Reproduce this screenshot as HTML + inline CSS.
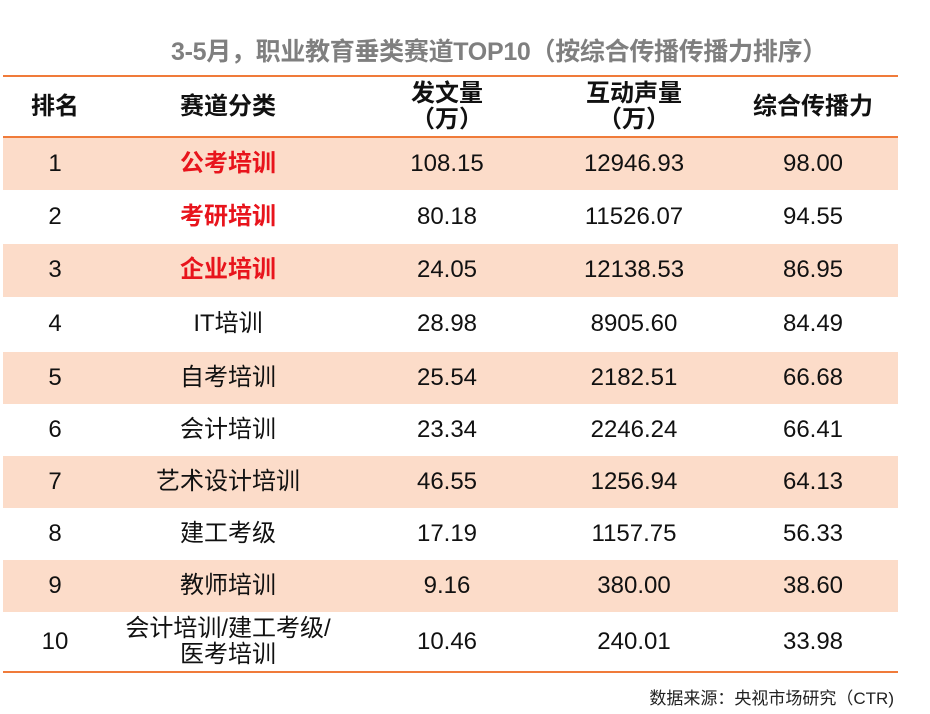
<!DOCTYPE html>
<html><head><meta charset="utf-8"><style>
body{margin:0;width:930px;height:714px;background:#fff;position:relative;overflow:hidden;font-family:"Liberation Sans","Noto Sans CJK SC",sans-serif;}
.t{position:absolute;left:0;width:998px;top:32px;text-align:center;font-size:25px;font-weight:bold;color:#7f7f7f;letter-spacing:-0.3px;}
.line{position:absolute;left:3px;width:895px;height:2px;background:#f07b3a;}
.row{position:absolute;left:3px;width:895px;}
.row.s{background:#fcdcc9;}
.c{position:absolute;top:0;height:100%;display:flex;align-items:center;justify-content:center;text-align:center;font-size:24px;color:#111;line-height:1.1;}
.c0{left:0;width:104px}.c1{left:120px;width:210px}.c2{left:364px;width:160px}.c3{left:550px;width:162px}.c4{left:730px;width:160px}
.h .c{font-weight:bold;}
.r{color:#e8141c;font-weight:bold;}
.src{position:absolute;right:36px;top:684px;font-size:17px;color:#222;}
</style></head><body>
<div class="t">3-5月，职业教育垂类赛道TOP10（按综合传播传播力排序）</div>
<div class="line" style="top:75px"></div>
<div class="row h" style="top:77px;height:60px"><div class="c c0">排名</div><div class="c c1">赛道分类</div><div class="c c2">发文量<br>（万）</div><div class="c c3">互动声量<br>（万）</div><div class="c c4">综合传播力</div></div>
<div class="line" style="top:136px"></div>
<div class="row s" style="top:138px;height:52px"><div class="c c0">1</div><div class="c c1 r">公考培训</div><div class="c c2">108.15</div><div class="c c3">12946.93</div><div class="c c4">98.00</div></div>
<div class="row" style="top:190px;height:54px"><div class="c c0">2</div><div class="c c1 r">考研培训</div><div class="c c2">80.18</div><div class="c c3">11526.07</div><div class="c c4">94.55</div></div>
<div class="row s" style="top:244px;height:53px"><div class="c c0">3</div><div class="c c1 r">企业培训</div><div class="c c2">24.05</div><div class="c c3">12138.53</div><div class="c c4">86.95</div></div>
<div class="row" style="top:297px;height:55px"><div class="c c0">4</div><div class="c c1">IT培训</div><div class="c c2">28.98</div><div class="c c3">8905.60</div><div class="c c4">84.49</div></div>
<div class="row s" style="top:352px;height:52px"><div class="c c0">5</div><div class="c c1">自考培训</div><div class="c c2">25.54</div><div class="c c3">2182.51</div><div class="c c4">66.68</div></div>
<div class="row" style="top:404px;height:52px"><div class="c c0">6</div><div class="c c1">会计培训</div><div class="c c2">23.34</div><div class="c c3">2246.24</div><div class="c c4">66.41</div></div>
<div class="row s" style="top:456px;height:52px"><div class="c c0">7</div><div class="c c1">艺术设计培训</div><div class="c c2">46.55</div><div class="c c3">1256.94</div><div class="c c4">64.13</div></div>
<div class="row" style="top:508px;height:52px"><div class="c c0">8</div><div class="c c1">建工考级</div><div class="c c2">17.19</div><div class="c c3">1157.75</div><div class="c c4">56.33</div></div>
<div class="row s" style="top:560px;height:52px"><div class="c c0">9</div><div class="c c1">教师培训</div><div class="c c2">9.16</div><div class="c c3">380.00</div><div class="c c4">38.60</div></div>
<div class="row" style="top:612px;height:60px"><div class="c c0">10</div><div class="c c1">会计培训/建工考级/<br>医考培训</div><div class="c c2">10.46</div><div class="c c3">240.01</div><div class="c c4">33.98</div></div>
<div class="line" style="top:671px"></div>
<div class="src">数据来源：央视市场研究（CTR)</div>
</body></html>
